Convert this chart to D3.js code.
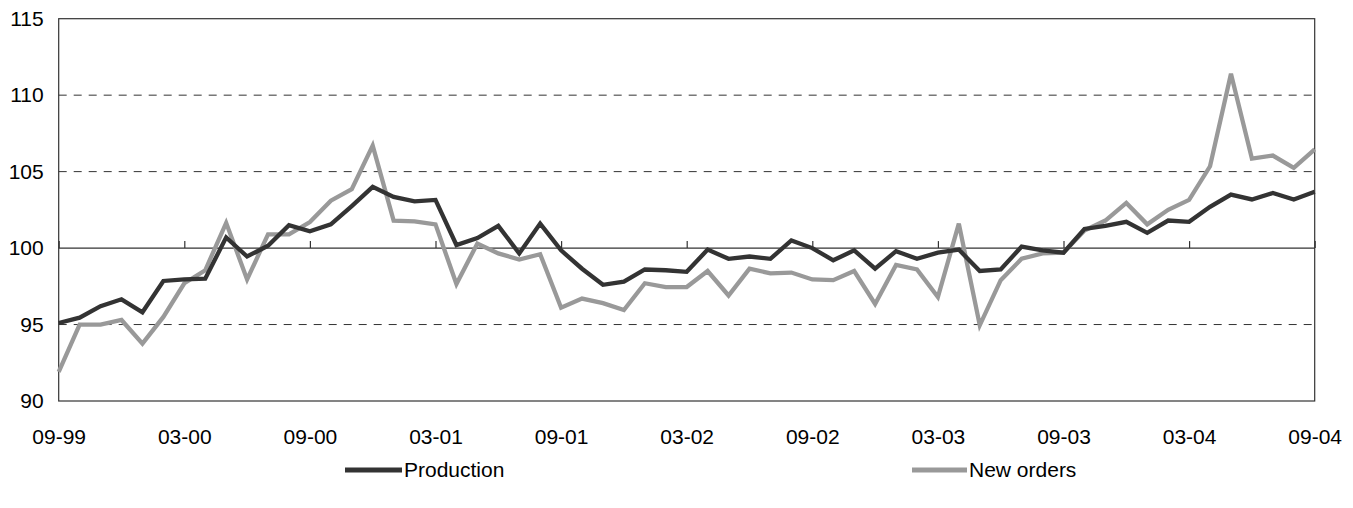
<!DOCTYPE html>
<html>
<head>
<meta charset="utf-8">
<script src="https://cdn.jsdelivr.net/npm/d3@7"></script>
<style>
  html, body { margin: 0; padding: 0; background: #fff; }
  svg { display: block; }
  text { font-family: "Liberation Sans", Arial, sans-serif; fill: #000; }
</style>
</head>
<body>
<svg id="chart" width="1353" height="508"></svg>
<script>
const tickLabels = ["09-99","03-00","09-00","03-01","09-01","03-02","09-02","03-03","09-03","03-04","09-04"];
const yTicks = [90, 95, 100, 105, 110, 115];

const production = [
  95.1, 95.45, 96.2, 96.65, 95.8, 97.85, 97.95, 98.0, 100.7, 99.45,
  100.15, 101.5, 101.1, 101.55, 102.75, 104.0, 103.35, 103.05, 103.15, 100.2,
  100.65, 101.45, 99.65, 101.6, 99.85, 98.65, 97.6, 97.8, 98.6, 98.55,
  98.45, 99.9, 99.3, 99.45, 99.3, 100.5, 100.0, 99.2, 99.85, 98.65,
  99.8, 99.3, 99.7, 99.9, 98.5, 98.6, 100.1, 99.85, 99.7, 101.25,
  101.45, 101.72, 101.0, 101.8, 101.72, 102.7, 103.5, 103.18, 103.6, 103.18,
  103.68
];
const newOrders = [
  91.9, 95.0, 95.0, 95.3, 93.75, 95.5, 97.7, 98.55, 101.65, 97.95,
  100.9, 100.9, 101.7, 103.1, 103.85, 106.7, 101.8, 101.75, 101.55, 97.65,
  100.3, 99.65, 99.25, 99.6, 96.1, 96.7, 96.4, 95.95, 97.7, 97.45,
  97.45, 98.5, 96.9, 98.65, 98.35, 98.4, 97.95, 97.9, 98.5, 96.35,
  98.9, 98.6, 96.8, 101.6, 94.95, 97.9, 99.3, 99.65, 99.7, 101.15,
  101.8, 102.95, 101.55, 102.5, 103.15, 105.35, 111.4, 105.85, 106.05, 105.25,
  106.45
];
const seriesNames = ["Production", "New orders"];
const seriesColors = ["#333333", "#999999"];

const svg = d3.select("#chart");
const L = 58.7, R = 1314.7, T = 18.7, B = 401;
const FS = "21px";

const x = d3.scaleLinear().domain([0, production.length - 1]).range([L, R]);
const y = d3.scaleLinear().domain([90, 115]).range([B, T]);

// Dashed gridlines
svg.append("g").selectAll("line")
  .data(yTicks.filter(v => v !== 100 && v !== 90 && v !== 115))
  .join("line")
  .attr("x1", L).attr("x2", R)
  .attr("y1", d => y(d)).attr("y2", d => y(d))
  .attr("stroke", "#333").attr("stroke-width", 1)
  .attr("stroke-dasharray", "8,7");

// Frame
svg.append("rect")
  .attr("x", L).attr("y", T).attr("width", R - L).attr("height", B - T)
  .attr("fill", "none").attr("stroke", "#333").attr("stroke-width", 1.2);

// 100 baseline with ticks (using d3 axis)
const tickIdx = tickLabels.map((d, i) => i * 6);
const baseAxis = d3.axisTop(x).tickValues(tickIdx).tickSize(7).tickFormat("");
const ba = svg.append("g").attr("transform", `translate(0,${y(100)})`).call(baseAxis);
ba.select(".domain").attr("stroke", "#333").attr("stroke-width", 1.2).attr("d", `M${L},0H${R}`);
ba.selectAll(".tick line").attr("stroke", "#333").attr("stroke-width", 1.2);

// Y axis labels
const yAxis = d3.axisLeft(y).tickValues(yTicks).tickSize(0).tickPadding(15);
const ya = svg.append("g").attr("transform", `translate(${L},0)`).call(yAxis);
ya.select(".domain").remove();
ya.selectAll("text").style("font-size", FS).style("font-family", "'Liberation Sans', Arial, sans-serif").attr("fill", "#000");

// X axis labels
const xAxis = d3.axisBottom(x).tickValues(tickIdx).tickSize(0).tickPadding(28)
  .tickFormat((d, i) => tickLabels[i]);
const xa = svg.append("g").attr("transform", `translate(0,${B})`).call(xAxis);
xa.select(".domain").remove();
xa.selectAll("text").style("font-size", FS).style("font-family", "'Liberation Sans', Arial, sans-serif").attr("fill", "#000");

// Lines
const line = d3.line().x((d, i) => x(i)).y(d => y(d));
[newOrders, production].forEach((s, k) => {
  const idx = k === 0 ? 1 : 0;
  svg.append("path").datum(s)
    .attr("d", line)
    .attr("fill", "none")
    .attr("stroke", seriesColors[idx])
    .attr("stroke-width", 4.3)
    .attr("stroke-linejoin", "miter");
});

// Legend
const legendPos = [{lx: 345, tx: 404}, {lx: 912, tx: 969}];
seriesNames.forEach((n, i) => {
  const g = svg.append("g");
  g.append("line")
    .attr("x1", legendPos[i].lx).attr("x2", legendPos[i].tx - 2)
    .attr("y1", 470).attr("y2", 470)
    .attr("stroke", seriesColors[i]).attr("stroke-width", 5);
  g.append("text")
    .attr("x", legendPos[i].tx).attr("y", 477)
    .style("font-size", FS)
    .text(n);
});
</script>
</body>
</html>
